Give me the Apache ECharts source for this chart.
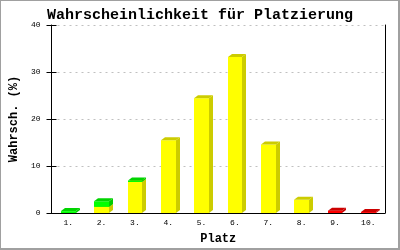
<!DOCTYPE html>
<html><head><meta charset="utf-8">
<script src="https://cdn.jsdelivr.net/npm/echarts@6/dist/echarts.min.js"></script>
<style>
html,body{margin:0;padding:0;background:#fff;}
#c{position:absolute;left:0;top:0;width:397px;height:247px;border-top:1px solid #a0a0a0;border-left:1px solid #a0a0a0;border-right:2px solid #a0a0a0;border-bottom:2px solid #a0a0a0;}
#chart{width:400px;height:250px;position:absolute;left:0;top:0;}
</style></head>
<body>
<div id="c"></div>
<div id="chart"></div>
<script>
var categories = ['1.','2.','3.','4.','5.','6.','7.','8.','9.','10.'];
var yellowVals = [0, 1.3, 6.6, 15.5, 24.4, 33.2, 14.6, 2.8, 0, 0];
var greenVals  = [0.4, 1.2, 0.3, 0, 0, 0, 0, 0, 0, 0];
var redVals    = [0, 0, 0, 0, 0, 0, 0, 0, 0.5, 0.2];
var yTicks = [0, 10, 20, 30, 40];

var FONT = '"Liberation Mono", "DejaVu Sans Mono", monospace';
var segColors = [
  {front:'#ffff00', side:'#cccc00', top:'#cccc00'},
  {front:'#00ff00', side:'#00cc00', top:'#00d400'},
  {front:'#ff0000', side:'#cc0000', top:'#cc0000'}
];
var data = categories.map(function(c, i){ return [i, yellowVals[i], greenVals[i], redVals[i]]; });

function renderItem(params, api){
  var i = api.value(0);
  var vals = [api.value(1), api.value(2), api.value(3)];
  var band = api.size([1, 0])[0];
  var w = band * 0.44;
  var dx = 4, dy = 3;
  var cx = api.coord([i, 0])[0];
  var x0 = Math.round(cx - w/2), x1 = Math.round(cx + w/2);
  var children = [];
  var base = 0;
  for (var k = 0; k < 3; k++){
    var v = vals[k];
    if (!v) continue;
    var yb = api.coord([i, base])[1];
    var yt = api.coord([i, base + v])[1];
    var col = segColors[k];
    children.push({type:'polygon', shape:{points:[[x1,yb],[x1+dx,yb-dy],[x1+dx,yt-dy],[x1,yt]]}, style:{fill:col.side}});
    children.push({type:'rect', shape:{x:x0, y:yt, width:x1-x0, height:yb-yt}, style:{fill:col.front}});
    children.push({type:'polygon', shape:{points:[[x0,yt],[x1,yt],[x1+dx,yt-dy],[x0+dx,yt-dy]]}, style:{fill:col.top}});
    base += v;
  }
  return {type:'group', children:children};
}

var chart = echarts.init(document.getElementById('chart'), null, {renderer:'canvas'});
chart.setOption({
  animation:false,
  backgroundColor:'transparent',
  title:{text:'Wahrscheinlichkeit für Platzierung', left:'center', top:3,
    textStyle:{fontFamily:FONT, fontSize:15, fontWeight:'bold', color:'#000'}},
  grid:{left:43, right:15, top:25, bottom:36},
  xAxis:{type:'category', data:categories,
    name:'Platz', nameLocation:'middle', nameGap:20,
    nameTextStyle:{fontFamily:FONT, fontSize:12, fontWeight:'bold', color:'#000'},
    axisLine:{lineStyle:{color:'#000', width:1}},
    axisTick:{show:false},
    axisLabel:{fontFamily:FONT, fontSize:8, color:'#000', margin:6},
    splitLine:{show:false}},
  yAxis:[
    {type:'value', min:0, max:40, interval:10, position:'left',
     name:'Wahrsch. (%)', nameLocation:'middle', nameGap:26,
     nameTextStyle:{fontFamily:FONT, fontSize:12, fontWeight:'bold', color:'#000'},
     axisLine:{show:true, lineStyle:{color:'#000', width:1}},
     axisTick:{show:true, length:5, lineStyle:{color:'#000'}},
     axisLabel:{fontFamily:FONT, fontSize:8, color:'#000', margin:11,
       formatter:function(v){ return yTicks.indexOf(v) >= 0 ? String(v) : ''; }},
     splitLine:{show:true, lineStyle:{color:'#c0c0c0', type:[2,4], width:1}}},
    {type:'value', min:0, max:40, interval:10, position:'left',
     axisLine:{show:false}, axisTick:{show:true, inside:true, length:5, lineStyle:{color:'#000'}},
     axisLabel:{show:false}, splitLine:{show:false}},
    {type:'value', min:0, max:40, interval:10, position:'right',
     axisLine:{show:true, lineStyle:{color:'#000', width:1}}, axisTick:{show:false},
     axisLabel:{show:false}, splitLine:{show:false}}
  ],
  series:[{type:'custom', renderItem:renderItem, data:data, encode:{x:0, y:[1,2,3]}, clip:false}]
});
</script>
</body></html>
